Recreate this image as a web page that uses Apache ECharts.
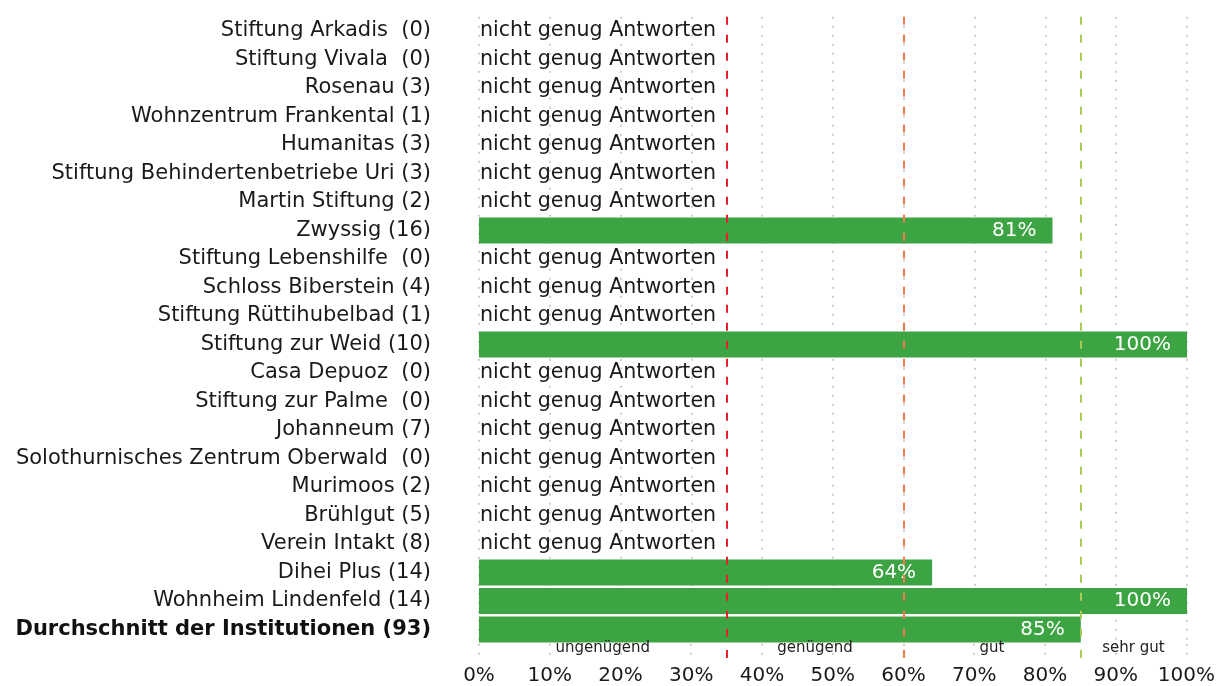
<!DOCTYPE html>
<html>
<head>
  <meta charset="utf-8">
  <title>Institutionen</title>
  <script src="https://cdn.jsdelivr.net/npm/echarts@6/dist/echarts.min.js"></script>
  <style>
    html, body { margin: 0; padding: 0; background: #fff; }
  </style>
</head>
<body>
  <div id="main" style="width:1218px;height:686px;"></div>
  <script type="text/javascript">
    // Daten
    var categories = [
      'Stiftung Arkadis  (0)', 'Stiftung Vivala  (0)', 'Rosenau (3)', 'Wohnzentrum Frankental (1)',
      'Humanitas (3)', 'Stiftung Behindertenbetriebe Uri (3)', 'Martin Stiftung (2)', 'Zwyssig (16)',
      'Stiftung Lebenshilfe  (0)', 'Schloss Biberstein (4)', 'Stiftung Rüttihubelbad (1)',
      'Stiftung zur Weid (10)', 'Casa Depuoz  (0)', 'Stiftung zur Palme  (0)', 'Johanneum (7)',
      'Solothurnisches Zentrum Oberwald  (0)', 'Murimoos (2)', 'Brühlgut (5)', 'Verein Intakt (8)',
      'Dihei Plus (14)', 'Wohnheim Lindenfeld (14)', 'Durchschnitt der Institutionen (93)'
    ];
    var scores = [null, null, null, null, null, null, null, 81, null, null, null, 100,
      null, null, null, null, null, null, null, 64, 100, 85];
    var noDataText = 'nicht genug Antworten';
    var thresholds = [35, 60, 85];
    var zoneBounds = [0, 35, 60, 85, 100];
    var zoneNames = ['ungenügend', 'genügend', 'gut', 'sehr gut'];

    var font = 'DejaVu Sans';
    var lineColors = ['#e8202c', '#f47a4c', '#a9cc52'];

    var myChart = echarts.init(document.getElementById('main'));

    var noData = [];
    scores.forEach(function (v, i) {
      if (v == null) noData.push([0, categories[i]]);
    });
    var zoneData = zoneNames.map(function (n, i) {
      return { value: [(zoneBounds[i] + zoneBounds[i + 1]) / 2, ''], name: n };
    });

    function markLines() {
      return {
        silent: true,
        symbol: ['none', 'none'],
        label: { show: false },
        data: thresholds.map(function (t, i) {
          return { xAxis: t, lineStyle: { color: lineColors[i], type: [8, 10], width: 2 } };
        })
      };
    }

    var splitLine = { show: true, lineStyle: { color: '#bdbdbd', type: [2, 7], width: 1.5 } };

    var option = {
      animation: false,
      textStyle: { fontFamily: font },
      grid: [
        { left: 479, right: 31, top: 16.75, height: 627 },
        { left: 479, right: 31, top: 643.75, height: 16 }
      ],
      xAxis: [
        {
          gridIndex: 0, type: 'value', min: 0, max: 100, interval: 10,
          axisLine: { show: false }, axisTick: { show: false }, axisLabel: { show: false },
          splitLine: splitLine
        },
        {
          gridIndex: 1, type: 'value', min: 0, max: 100, interval: 10,
          axisLine: { show: false }, axisTick: { show: false },
          axisLabel: { formatter: '{value}%', fontSize: 20, color: '#1a1a1a', margin: 8 },
          splitLine: splitLine
        }
      ],
      yAxis: [
        {
          gridIndex: 0, type: 'category', data: categories, inverse: true,
          axisLine: { show: false }, axisTick: { show: false },
          splitLine: { show: false },
          axisLabel: {
            fontSize: 21, color: '#1a1a1a', margin: 48,
            formatter: function (v, i) {
              return i === categories.length - 1 ? '{b|' + v + '}' : v;
            },
            rich: { b: { fontWeight: 'bold', fontSize: 21, color: '#111', fontFamily: font } }
          }
        },
        {
          gridIndex: 1, type: 'category', data: [''],
          axisLine: { show: false }, axisTick: { show: false }, axisLabel: { show: false }
        }
      ],
      series: [
        {
          type: 'bar',
          xAxisIndex: 0, yAxisIndex: 0,
          data: scores,
          barWidth: 26,
          itemStyle: { color: '#3da444' },
          label: {
            show: true, position: 'insideRight', distance: 16,
            formatter: '{c}%', color: '#fff', fontSize: 20
          },
          markLine: markLines()
        },
        {
          type: 'scatter',
          xAxisIndex: 0, yAxisIndex: 0,
          data: noData,
          symbolSize: 0,
          silent: true,
          itemStyle: { opacity: 1 },
          label: {
            show: true, position: 'right', distance: 1,
            formatter: noDataText, color: '#1a1a1a', fontSize: 20.6
          }
        },
        {
          type: 'scatter',
          xAxisIndex: 1, yAxisIndex: 1,
          data: zoneData,
          symbolSize: 0,
          silent: true,
          itemStyle: { opacity: 1 },
          label: {
            show: true, position: 'inside', offset: [0, -3],
            formatter: '{b}', color: '#222', fontSize: 15
          },
          markLine: markLines()
        }
      ]
    };

    myChart.setOption(option);
  </script>
</body>
</html>
